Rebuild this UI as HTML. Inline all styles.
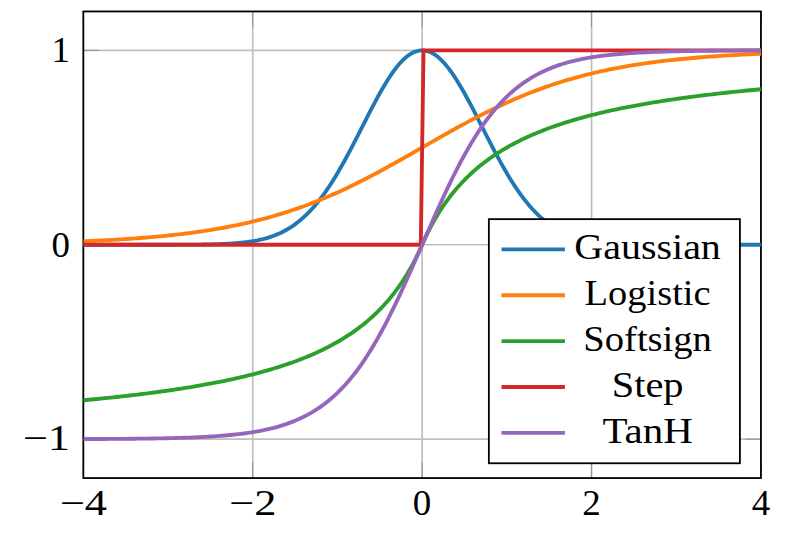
<!DOCTYPE html>
<html lang="en">
<head>
<meta charset="utf-8">
<title>Activation functions</title>
<style>
html,body{margin:0;padding:0;background:#ffffff;}
body{width:793px;height:541px;overflow:hidden;font-family:"Liberation Serif",serif;}
svg{display:block;position:absolute;left:0;top:0;}
</style>
</head>
<body>
<svg width="793" height="541" viewBox="0 0 793 541">
<defs>
<clipPath id="plotclip"><rect x="83.33" y="11.45" width="677.62" height="466.60"/></clipPath>
</defs>
<rect x="0" y="0" width="793" height="541" fill="#ffffff"/>
<g stroke="#bfbfbf" stroke-width="1.70" fill="none">
<line x1="252.74" y1="11.45" x2="252.74" y2="478.05"/>
<line x1="422.14" y1="11.45" x2="422.14" y2="478.05"/>
<line x1="591.55" y1="11.45" x2="591.55" y2="478.05"/>
<line x1="83.33" y1="439.17" x2="760.95" y2="439.17"/>
<line x1="83.33" y1="244.75" x2="760.95" y2="244.75"/>
<line x1="83.33" y1="50.33" x2="760.95" y2="50.33"/>
</g>
<g stroke="#808080" stroke-width="0.74" fill="none">
<line x1="83.33" y1="478.05" x2="83.33" y2="462.26"/>
<line x1="83.33" y1="11.45" x2="83.33" y2="27.24"/>
<line x1="252.74" y1="478.05" x2="252.74" y2="462.26"/>
<line x1="252.74" y1="11.45" x2="252.74" y2="27.24"/>
<line x1="422.14" y1="478.05" x2="422.14" y2="462.26"/>
<line x1="422.14" y1="11.45" x2="422.14" y2="27.24"/>
<line x1="591.55" y1="478.05" x2="591.55" y2="462.26"/>
<line x1="591.55" y1="11.45" x2="591.55" y2="27.24"/>
<line x1="760.95" y1="478.05" x2="760.95" y2="462.26"/>
<line x1="760.95" y1="11.45" x2="760.95" y2="27.24"/>
<line x1="83.33" y1="439.17" x2="99.12" y2="439.17"/>
<line x1="760.95" y1="439.17" x2="745.16" y2="439.17"/>
<line x1="83.33" y1="244.75" x2="99.12" y2="244.75"/>
<line x1="760.95" y1="244.75" x2="745.16" y2="244.75"/>
<line x1="83.33" y1="50.33" x2="99.12" y2="50.33"/>
<line x1="760.95" y1="50.33" x2="745.16" y2="50.33"/>
</g>
<rect x="83.33" y="11.45" width="677.62" height="466.60" fill="none" stroke="#000" stroke-width="1.80"/>
<g clip-path="url(#plotclip)" fill="none" stroke-width="3.85" stroke-linejoin="miter" stroke-linecap="butt">
<path stroke="#1f77b4" d="M83.33 244.75 L86.05 244.75 L88.77 244.75 L91.49 244.75 L94.22 244.75 L96.94 244.75 L99.66 244.75 L102.38 244.75 L105.10 244.75 L107.82 244.75 L110.54 244.75 L113.27 244.75 L115.99 244.75 L118.71 244.75 L121.43 244.75 L124.15 244.75 L126.87 244.75 L129.59 244.75 L132.31 244.75 L135.04 244.75 L137.76 244.75 L140.48 244.75 L143.20 244.75 L145.92 244.75 L148.64 244.74 L151.36 244.74 L154.09 244.74 L156.81 244.74 L159.53 244.74 L162.25 244.73 L164.97 244.73 L167.69 244.73 L170.41 244.72 L173.14 244.72 L175.86 244.71 L178.58 244.70 L181.30 244.69 L184.02 244.68 L186.74 244.66 L189.46 244.65 L192.18 244.63 L194.91 244.60 L197.63 244.58 L200.35 244.55 L203.07 244.51 L205.79 244.46 L208.51 244.41 L211.23 244.36 L213.96 244.29 L216.68 244.21 L219.40 244.12 L222.12 244.01 L224.84 243.89 L227.56 243.76 L230.28 243.60 L233.01 243.42 L235.73 243.22 L238.45 242.99 L241.17 242.73 L243.89 242.43 L246.61 242.10 L249.33 241.72 L252.05 241.30 L254.78 240.83 L257.50 240.31 L260.22 239.72 L262.94 239.07 L265.66 238.34 L268.38 237.54 L271.10 236.66 L273.83 235.69 L276.55 234.62 L279.27 233.45 L281.99 232.17 L284.71 230.77 L287.43 229.25 L290.15 227.60 L292.88 225.82 L295.60 223.89 L298.32 221.81 L301.04 219.57 L303.76 217.18 L306.48 214.62 L309.20 211.89 L311.92 208.99 L314.65 205.91 L317.37 202.65 L320.09 199.22 L322.81 195.60 L325.53 191.81 L328.25 187.85 L330.97 183.71 L333.70 179.40 L336.42 174.94 L339.14 170.33 L341.86 165.57 L344.58 160.69 L347.30 155.68 L350.02 150.58 L352.75 145.39 L355.47 140.12 L358.19 134.81 L360.91 129.46 L363.63 124.11 L366.35 118.76 L369.07 113.45 L371.79 108.20 L374.52 103.03 L377.24 97.96 L379.96 93.03 L382.68 88.26 L385.40 83.67 L388.12 79.29 L390.84 75.14 L393.57 71.25 L396.29 67.63 L399.01 64.31 L401.73 61.30 L404.45 58.63 L407.17 56.31 L409.89 54.36 L412.62 52.78 L415.34 51.58 L418.06 50.78 L420.78 50.38 L423.50 50.38 L426.22 50.78 L428.94 51.58 L431.66 52.78 L434.39 54.36 L437.11 56.31 L439.83 58.63 L442.55 61.30 L445.27 64.31 L447.99 67.63 L450.71 71.25 L453.44 75.14 L456.16 79.29 L458.88 83.67 L461.60 88.26 L464.32 93.03 L467.04 97.96 L469.76 103.03 L472.49 108.20 L475.21 113.45 L477.93 118.76 L480.65 124.11 L483.37 129.46 L486.09 134.81 L488.81 140.12 L491.53 145.39 L494.26 150.58 L496.98 155.68 L499.70 160.69 L502.42 165.57 L505.14 170.33 L507.86 174.94 L510.58 179.40 L513.31 183.71 L516.03 187.85 L518.75 191.81 L521.47 195.60 L524.19 199.22 L526.91 202.65 L529.63 205.91 L532.36 208.99 L535.08 211.89 L537.80 214.62 L540.52 217.18 L543.24 219.57 L545.96 221.81 L548.68 223.89 L551.40 225.82 L554.13 227.60 L556.85 229.25 L559.57 230.77 L562.29 232.17 L565.01 233.45 L567.73 234.62 L570.45 235.69 L573.18 236.66 L575.90 237.54 L578.62 238.34 L581.34 239.07 L584.06 239.72 L586.78 240.31 L589.50 240.83 L592.23 241.30 L594.95 241.72 L597.67 242.10 L600.39 242.43 L603.11 242.73 L605.83 242.99 L608.55 243.22 L611.27 243.42 L614.00 243.60 L616.72 243.76 L619.44 243.89 L622.16 244.01 L624.88 244.12 L627.60 244.21 L630.32 244.29 L633.05 244.36 L635.77 244.41 L638.49 244.46 L641.21 244.51 L643.93 244.55 L646.65 244.58 L649.37 244.60 L652.10 244.63 L654.82 244.65 L657.54 244.66 L660.26 244.68 L662.98 244.69 L665.70 244.70 L668.42 244.71 L671.14 244.72 L673.87 244.72 L676.59 244.73 L679.31 244.73 L682.03 244.73 L684.75 244.74 L687.47 244.74 L690.19 244.74 L692.92 244.74 L695.64 244.74 L698.36 244.75 L701.08 244.75 L703.80 244.75 L706.52 244.75 L709.24 244.75 L711.97 244.75 L714.69 244.75 L717.41 244.75 L720.13 244.75 L722.85 244.75 L725.57 244.75 L728.29 244.75 L731.01 244.75 L733.74 244.75 L736.46 244.75 L739.18 244.75 L741.90 244.75 L744.62 244.75 L747.34 244.75 L750.06 244.75 L752.79 244.75 L755.51 244.75 L758.23 244.75 L760.95 244.75"/>
<path stroke="#ff7f0e" d="M83.33 241.25 L86.05 241.14 L88.77 241.03 L91.49 240.91 L94.22 240.78 L96.94 240.66 L99.66 240.53 L102.38 240.39 L105.10 240.25 L107.82 240.11 L110.54 239.96 L113.27 239.81 L115.99 239.65 L118.71 239.49 L121.43 239.32 L124.15 239.15 L126.87 238.97 L129.59 238.79 L132.31 238.60 L135.04 238.41 L137.76 238.21 L140.48 238.00 L143.20 237.79 L145.92 237.57 L148.64 237.34 L151.36 237.11 L154.09 236.87 L156.81 236.63 L159.53 236.37 L162.25 236.11 L164.97 235.84 L167.69 235.56 L170.41 235.28 L173.14 234.99 L175.86 234.68 L178.58 234.37 L181.30 234.05 L184.02 233.72 L186.74 233.38 L189.46 233.04 L192.18 232.68 L194.91 232.31 L197.63 231.93 L200.35 231.54 L203.07 231.14 L205.79 230.72 L208.51 230.30 L211.23 229.86 L213.96 229.42 L216.68 228.96 L219.40 228.48 L222.12 228.00 L224.84 227.50 L227.56 226.99 L230.28 226.46 L233.01 225.92 L235.73 225.37 L238.45 224.80 L241.17 224.22 L243.89 223.62 L246.61 223.01 L249.33 222.38 L252.05 221.74 L254.78 221.08 L257.50 220.40 L260.22 219.71 L262.94 219.00 L265.66 218.27 L268.38 217.53 L271.10 216.77 L273.83 215.99 L276.55 215.20 L279.27 214.38 L281.99 213.55 L284.71 212.70 L287.43 211.83 L290.15 210.94 L292.88 210.03 L295.60 209.11 L298.32 208.16 L301.04 207.20 L303.76 206.22 L306.48 205.21 L309.20 204.19 L311.92 203.15 L314.65 202.09 L317.37 201.01 L320.09 199.91 L322.81 198.80 L325.53 197.66 L328.25 196.50 L330.97 195.33 L333.70 194.13 L336.42 192.92 L339.14 191.69 L341.86 190.44 L344.58 189.18 L347.30 187.89 L350.02 186.59 L352.75 185.27 L355.47 183.94 L358.19 182.59 L360.91 181.22 L363.63 179.84 L366.35 178.44 L369.07 177.03 L371.79 175.61 L374.52 174.17 L377.24 172.72 L379.96 171.26 L382.68 169.78 L385.40 168.30 L388.12 166.80 L390.84 165.30 L393.57 163.78 L396.29 162.26 L399.01 160.73 L401.73 159.20 L404.45 157.66 L407.17 156.11 L409.89 154.56 L412.62 153.00 L415.34 151.44 L418.06 149.88 L420.78 148.32 L423.50 146.76 L426.22 145.20 L428.94 143.64 L431.66 142.08 L434.39 140.53 L437.11 138.98 L439.83 137.43 L442.55 135.89 L445.27 134.35 L447.99 132.82 L450.71 131.30 L453.44 129.79 L456.16 128.28 L458.88 126.78 L461.60 125.30 L464.32 123.83 L467.04 122.36 L469.76 120.91 L472.49 119.47 L475.21 118.05 L477.93 116.64 L480.65 115.24 L483.37 113.86 L486.09 112.49 L488.81 111.14 L491.53 109.81 L494.26 108.49 L496.98 107.19 L499.70 105.91 L502.42 104.64 L505.14 103.39 L507.86 102.16 L510.58 100.95 L513.31 99.76 L516.03 98.58 L518.75 97.42 L521.47 96.29 L524.19 95.17 L526.91 94.07 L529.63 92.99 L532.36 91.93 L535.08 90.89 L537.80 89.87 L540.52 88.87 L543.24 87.88 L545.96 86.92 L548.68 85.97 L551.40 85.05 L554.13 84.14 L556.85 83.25 L559.57 82.39 L562.29 81.53 L565.01 80.70 L567.73 79.89 L570.45 79.09 L573.18 78.31 L575.90 77.55 L578.62 76.81 L581.34 76.08 L584.06 75.37 L586.78 74.68 L589.50 74.00 L592.23 73.34 L594.95 72.70 L597.67 72.07 L600.39 71.46 L603.11 70.86 L605.83 70.28 L608.55 69.71 L611.27 69.16 L614.00 68.62 L616.72 68.09 L619.44 67.58 L622.16 67.08 L624.88 66.60 L627.60 66.13 L630.32 65.67 L633.05 65.22 L635.77 64.78 L638.49 64.36 L641.21 63.95 L643.93 63.55 L646.65 63.16 L649.37 62.78 L652.10 62.41 L654.82 62.05 L657.54 61.70 L660.26 61.36 L662.98 61.03 L665.70 60.71 L668.42 60.40 L671.14 60.10 L673.87 59.80 L676.59 59.52 L679.31 59.24 L682.03 58.97 L684.75 58.71 L687.47 58.46 L690.19 58.21 L692.92 57.97 L695.64 57.74 L698.36 57.51 L701.08 57.29 L703.80 57.08 L706.52 56.88 L709.24 56.68 L711.97 56.48 L714.69 56.29 L717.41 56.11 L720.13 55.93 L722.85 55.76 L725.57 55.59 L728.29 55.43 L731.01 55.27 L733.74 55.12 L736.46 54.97 L739.18 54.83 L741.90 54.69 L744.62 54.56 L747.34 54.43 L750.06 54.30 L752.79 54.18 L755.51 54.06 L758.23 53.94 L760.95 53.83"/>
<path stroke="#2ca02c" d="M83.33 400.28 L86.05 400.03 L88.77 399.78 L91.49 399.52 L94.22 399.26 L96.94 398.99 L99.66 398.72 L102.38 398.45 L105.10 398.18 L107.82 397.90 L110.54 397.61 L113.27 397.33 L115.99 397.03 L118.71 396.74 L121.43 396.44 L124.15 396.14 L126.87 395.83 L129.59 395.51 L132.31 395.20 L135.04 394.88 L137.76 394.55 L140.48 394.22 L143.20 393.88 L145.92 393.54 L148.64 393.19 L151.36 392.84 L154.09 392.48 L156.81 392.12 L159.53 391.75 L162.25 391.38 L164.97 391.00 L167.69 390.61 L170.41 390.22 L173.14 389.82 L175.86 389.41 L178.58 389.00 L181.30 388.58 L184.02 388.16 L186.74 387.72 L189.46 387.28 L192.18 386.83 L194.91 386.38 L197.63 385.91 L200.35 385.44 L203.07 384.96 L205.79 384.47 L208.51 383.97 L211.23 383.46 L213.96 382.94 L216.68 382.41 L219.40 381.88 L222.12 381.33 L224.84 380.77 L227.56 380.20 L230.28 379.62 L233.01 379.03 L235.73 378.43 L238.45 377.81 L241.17 377.18 L243.89 376.54 L246.61 375.89 L249.33 375.22 L252.05 374.53 L254.78 373.84 L257.50 373.12 L260.22 372.39 L262.94 371.65 L265.66 370.89 L268.38 370.11 L271.10 369.31 L273.83 368.50 L276.55 367.66 L279.27 366.81 L281.99 365.93 L284.71 365.03 L287.43 364.11 L290.15 363.17 L292.88 362.20 L295.60 361.21 L298.32 360.19 L301.04 359.15 L303.76 358.08 L306.48 356.98 L309.20 355.85 L311.92 354.68 L314.65 353.49 L317.37 352.26 L320.09 350.99 L322.81 349.68 L325.53 348.34 L328.25 346.96 L330.97 345.53 L333.70 344.06 L336.42 342.54 L339.14 340.97 L341.86 339.35 L344.58 337.68 L347.30 335.95 L350.02 334.16 L352.75 332.30 L355.47 330.38 L358.19 328.39 L360.91 326.32 L363.63 324.18 L366.35 321.95 L369.07 319.64 L371.79 317.23 L374.52 314.72 L377.24 312.11 L379.96 309.38 L382.68 306.54 L385.40 303.57 L388.12 300.46 L390.84 297.20 L393.57 293.79 L396.29 290.21 L399.01 286.45 L401.73 282.50 L404.45 278.34 L407.17 273.95 L409.89 269.31 L412.62 264.40 L415.34 259.20 L418.06 253.69 L420.78 247.82 L423.50 241.68 L426.22 235.81 L428.94 230.30 L431.66 225.10 L434.39 220.19 L437.11 215.55 L439.83 211.16 L442.55 207.00 L445.27 203.05 L447.99 199.29 L450.71 195.71 L453.44 192.30 L456.16 189.04 L458.88 185.93 L461.60 182.96 L464.32 180.12 L467.04 177.39 L469.76 174.78 L472.49 172.27 L475.21 169.86 L477.93 167.55 L480.65 165.32 L483.37 163.18 L486.09 161.11 L488.81 159.12 L491.53 157.20 L494.26 155.34 L496.98 153.55 L499.70 151.82 L502.42 150.15 L505.14 148.53 L507.86 146.96 L510.58 145.44 L513.31 143.97 L516.03 142.54 L518.75 141.16 L521.47 139.82 L524.19 138.51 L526.91 137.24 L529.63 136.01 L532.36 134.82 L535.08 133.65 L537.80 132.52 L540.52 131.42 L543.24 130.35 L545.96 129.31 L548.68 128.29 L551.40 127.30 L554.13 126.33 L556.85 125.39 L559.57 124.47 L562.29 123.57 L565.01 122.69 L567.73 121.84 L570.45 121.00 L573.18 120.19 L575.90 119.39 L578.62 118.61 L581.34 117.85 L584.06 117.11 L586.78 116.38 L589.50 115.66 L592.23 114.97 L594.95 114.28 L597.67 113.61 L600.39 112.96 L603.11 112.32 L605.83 111.69 L608.55 111.07 L611.27 110.47 L614.00 109.88 L616.72 109.30 L619.44 108.73 L622.16 108.17 L624.88 107.62 L627.60 107.09 L630.32 106.56 L633.05 106.04 L635.77 105.53 L638.49 105.03 L641.21 104.54 L643.93 104.06 L646.65 103.59 L649.37 103.12 L652.10 102.67 L654.82 102.22 L657.54 101.78 L660.26 101.34 L662.98 100.92 L665.70 100.50 L668.42 100.09 L671.14 99.68 L673.87 99.28 L676.59 98.89 L679.31 98.50 L682.03 98.12 L684.75 97.75 L687.47 97.38 L690.19 97.02 L692.92 96.66 L695.64 96.31 L698.36 95.96 L701.08 95.62 L703.80 95.28 L706.52 94.95 L709.24 94.62 L711.97 94.30 L714.69 93.99 L717.41 93.67 L720.13 93.36 L722.85 93.06 L725.57 92.76 L728.29 92.47 L731.01 92.17 L733.74 91.89 L736.46 91.60 L739.18 91.32 L741.90 91.05 L744.62 90.78 L747.34 90.51 L750.06 90.24 L752.79 89.98 L755.51 89.72 L758.23 89.47 L760.95 89.22"/>
<path stroke="#d62728" d="M83.33 244.75 L86.05 244.75 L88.77 244.75 L91.49 244.75 L94.22 244.75 L96.94 244.75 L99.66 244.75 L102.38 244.75 L105.10 244.75 L107.82 244.75 L110.54 244.75 L113.27 244.75 L115.99 244.75 L118.71 244.75 L121.43 244.75 L124.15 244.75 L126.87 244.75 L129.59 244.75 L132.31 244.75 L135.04 244.75 L137.76 244.75 L140.48 244.75 L143.20 244.75 L145.92 244.75 L148.64 244.75 L151.36 244.75 L154.09 244.75 L156.81 244.75 L159.53 244.75 L162.25 244.75 L164.97 244.75 L167.69 244.75 L170.41 244.75 L173.14 244.75 L175.86 244.75 L178.58 244.75 L181.30 244.75 L184.02 244.75 L186.74 244.75 L189.46 244.75 L192.18 244.75 L194.91 244.75 L197.63 244.75 L200.35 244.75 L203.07 244.75 L205.79 244.75 L208.51 244.75 L211.23 244.75 L213.96 244.75 L216.68 244.75 L219.40 244.75 L222.12 244.75 L224.84 244.75 L227.56 244.75 L230.28 244.75 L233.01 244.75 L235.73 244.75 L238.45 244.75 L241.17 244.75 L243.89 244.75 L246.61 244.75 L249.33 244.75 L252.05 244.75 L254.78 244.75 L257.50 244.75 L260.22 244.75 L262.94 244.75 L265.66 244.75 L268.38 244.75 L271.10 244.75 L273.83 244.75 L276.55 244.75 L279.27 244.75 L281.99 244.75 L284.71 244.75 L287.43 244.75 L290.15 244.75 L292.88 244.75 L295.60 244.75 L298.32 244.75 L301.04 244.75 L303.76 244.75 L306.48 244.75 L309.20 244.75 L311.92 244.75 L314.65 244.75 L317.37 244.75 L320.09 244.75 L322.81 244.75 L325.53 244.75 L328.25 244.75 L330.97 244.75 L333.70 244.75 L336.42 244.75 L339.14 244.75 L341.86 244.75 L344.58 244.75 L347.30 244.75 L350.02 244.75 L352.75 244.75 L355.47 244.75 L358.19 244.75 L360.91 244.75 L363.63 244.75 L366.35 244.75 L369.07 244.75 L371.79 244.75 L374.52 244.75 L377.24 244.75 L379.96 244.75 L382.68 244.75 L385.40 244.75 L388.12 244.75 L390.84 244.75 L393.57 244.75 L396.29 244.75 L399.01 244.75 L401.73 244.75 L404.45 244.75 L407.17 244.75 L409.89 244.75 L412.62 244.75 L415.34 244.75 L418.06 244.75 L420.78 244.75 L423.50 50.33 L426.22 50.33 L428.94 50.33 L431.66 50.33 L434.39 50.33 L437.11 50.33 L439.83 50.33 L442.55 50.33 L445.27 50.33 L447.99 50.33 L450.71 50.33 L453.44 50.33 L456.16 50.33 L458.88 50.33 L461.60 50.33 L464.32 50.33 L467.04 50.33 L469.76 50.33 L472.49 50.33 L475.21 50.33 L477.93 50.33 L480.65 50.33 L483.37 50.33 L486.09 50.33 L488.81 50.33 L491.53 50.33 L494.26 50.33 L496.98 50.33 L499.70 50.33 L502.42 50.33 L505.14 50.33 L507.86 50.33 L510.58 50.33 L513.31 50.33 L516.03 50.33 L518.75 50.33 L521.47 50.33 L524.19 50.33 L526.91 50.33 L529.63 50.33 L532.36 50.33 L535.08 50.33 L537.80 50.33 L540.52 50.33 L543.24 50.33 L545.96 50.33 L548.68 50.33 L551.40 50.33 L554.13 50.33 L556.85 50.33 L559.57 50.33 L562.29 50.33 L565.01 50.33 L567.73 50.33 L570.45 50.33 L573.18 50.33 L575.90 50.33 L578.62 50.33 L581.34 50.33 L584.06 50.33 L586.78 50.33 L589.50 50.33 L592.23 50.33 L594.95 50.33 L597.67 50.33 L600.39 50.33 L603.11 50.33 L605.83 50.33 L608.55 50.33 L611.27 50.33 L614.00 50.33 L616.72 50.33 L619.44 50.33 L622.16 50.33 L624.88 50.33 L627.60 50.33 L630.32 50.33 L633.05 50.33 L635.77 50.33 L638.49 50.33 L641.21 50.33 L643.93 50.33 L646.65 50.33 L649.37 50.33 L652.10 50.33 L654.82 50.33 L657.54 50.33 L660.26 50.33 L662.98 50.33 L665.70 50.33 L668.42 50.33 L671.14 50.33 L673.87 50.33 L676.59 50.33 L679.31 50.33 L682.03 50.33 L684.75 50.33 L687.47 50.33 L690.19 50.33 L692.92 50.33 L695.64 50.33 L698.36 50.33 L701.08 50.33 L703.80 50.33 L706.52 50.33 L709.24 50.33 L711.97 50.33 L714.69 50.33 L717.41 50.33 L720.13 50.33 L722.85 50.33 L725.57 50.33 L728.29 50.33 L731.01 50.33 L733.74 50.33 L736.46 50.33 L739.18 50.33 L741.90 50.33 L744.62 50.33 L747.34 50.33 L750.06 50.33 L752.79 50.33 L755.51 50.33 L758.23 50.33 L760.95 50.33"/>
<path stroke="#9467bd" d="M83.33 439.04 L86.05 439.03 L88.77 439.02 L91.49 439.01 L94.22 439.00 L96.94 438.99 L99.66 438.97 L102.38 438.96 L105.10 438.95 L107.82 438.93 L110.54 438.92 L113.27 438.90 L115.99 438.88 L118.71 438.87 L121.43 438.85 L124.15 438.82 L126.87 438.80 L129.59 438.78 L132.31 438.75 L135.04 438.72 L137.76 438.70 L140.48 438.66 L143.20 438.63 L145.92 438.60 L148.64 438.56 L151.36 438.52 L154.09 438.47 L156.81 438.43 L159.53 438.38 L162.25 438.33 L164.97 438.27 L167.69 438.21 L170.41 438.15 L173.14 438.08 L175.86 438.01 L178.58 437.93 L181.30 437.85 L184.02 437.77 L186.74 437.67 L189.46 437.57 L192.18 437.47 L194.91 437.36 L197.63 437.24 L200.35 437.11 L203.07 436.97 L205.79 436.83 L208.51 436.68 L211.23 436.51 L213.96 436.34 L216.68 436.15 L219.40 435.95 L222.12 435.74 L224.84 435.52 L227.56 435.28 L230.28 435.02 L233.01 434.75 L235.73 434.46 L238.45 434.15 L241.17 433.82 L243.89 433.47 L246.61 433.10 L249.33 432.70 L252.05 432.28 L254.78 431.83 L257.50 431.36 L260.22 430.85 L262.94 430.31 L265.66 429.74 L268.38 429.13 L271.10 428.48 L273.83 427.79 L276.55 427.06 L279.27 426.28 L281.99 425.46 L284.71 424.58 L287.43 423.65 L290.15 422.67 L292.88 421.62 L295.60 420.51 L298.32 419.34 L301.04 418.09 L303.76 416.78 L306.48 415.38 L309.20 413.90 L311.92 412.34 L314.65 410.69 L317.37 408.95 L320.09 407.11 L322.81 405.17 L325.53 403.12 L328.25 400.97 L330.97 398.69 L333.70 396.30 L336.42 393.79 L339.14 391.15 L341.86 388.38 L344.58 385.48 L347.30 382.43 L350.02 379.25 L352.75 375.92 L355.47 372.44 L358.19 368.81 L360.91 365.04 L363.63 361.10 L366.35 357.02 L369.07 352.78 L371.79 348.38 L374.52 343.83 L377.24 339.13 L379.96 334.29 L382.68 329.29 L385.40 324.16 L388.12 318.89 L390.84 313.48 L393.57 307.96 L396.29 302.31 L399.01 296.56 L401.73 290.71 L404.45 284.77 L407.17 278.75 L409.89 272.66 L412.62 266.52 L415.34 260.33 L418.06 254.11 L420.78 247.87 L423.50 241.63 L426.22 235.39 L428.94 229.17 L431.66 222.98 L434.39 216.84 L437.11 210.75 L439.83 204.73 L442.55 198.79 L445.27 192.94 L447.99 187.19 L450.71 181.54 L453.44 176.02 L456.16 170.61 L458.88 165.34 L461.60 160.21 L464.32 155.21 L467.04 150.37 L469.76 145.67 L472.49 141.12 L475.21 136.72 L477.93 132.48 L480.65 128.40 L483.37 124.46 L486.09 120.69 L488.81 117.06 L491.53 113.58 L494.26 110.25 L496.98 107.07 L499.70 104.02 L502.42 101.12 L505.14 98.35 L507.86 95.71 L510.58 93.20 L513.31 90.81 L516.03 88.53 L518.75 86.38 L521.47 84.33 L524.19 82.39 L526.91 80.55 L529.63 78.81 L532.36 77.16 L535.08 75.60 L537.80 74.12 L540.52 72.72 L543.24 71.41 L545.96 70.16 L548.68 68.99 L551.40 67.88 L554.13 66.83 L556.85 65.85 L559.57 64.92 L562.29 64.04 L565.01 63.22 L567.73 62.44 L570.45 61.71 L573.18 61.02 L575.90 60.37 L578.62 59.76 L581.34 59.19 L584.06 58.65 L586.78 58.14 L589.50 57.67 L592.23 57.22 L594.95 56.80 L597.67 56.40 L600.39 56.03 L603.11 55.68 L605.83 55.35 L608.55 55.04 L611.27 54.75 L614.00 54.48 L616.72 54.22 L619.44 53.98 L622.16 53.76 L624.88 53.55 L627.60 53.35 L630.32 53.16 L633.05 52.99 L635.77 52.82 L638.49 52.67 L641.21 52.53 L643.93 52.39 L646.65 52.26 L649.37 52.14 L652.10 52.03 L654.82 51.93 L657.54 51.83 L660.26 51.73 L662.98 51.65 L665.70 51.57 L668.42 51.49 L671.14 51.42 L673.87 51.35 L676.59 51.29 L679.31 51.23 L682.03 51.17 L684.75 51.12 L687.47 51.07 L690.19 51.03 L692.92 50.98 L695.64 50.94 L698.36 50.90 L701.08 50.87 L703.80 50.84 L706.52 50.80 L709.24 50.78 L711.97 50.75 L714.69 50.72 L717.41 50.70 L720.13 50.68 L722.85 50.65 L725.57 50.63 L728.29 50.62 L731.01 50.60 L733.74 50.58 L736.46 50.57 L739.18 50.55 L741.90 50.54 L744.62 50.53 L747.34 50.51 L750.06 50.50 L752.79 50.49 L755.51 50.48 L758.23 50.47 L760.95 50.46"/>
</g>
<rect x="488.85" y="219.15" width="251.05" height="244.12" fill="#fff" stroke="#000" stroke-width="1.80"/>
<line x1="501.50" y1="249.38" x2="564.90" y2="249.38" stroke="#1f77b4" stroke-width="3.85"/>
<line x1="501.50" y1="295.25" x2="564.90" y2="295.25" stroke="#ff7f0e" stroke-width="3.85"/>
<line x1="501.50" y1="341.12" x2="564.90" y2="341.12" stroke="#2ca02c" stroke-width="3.85"/>
<line x1="501.50" y1="386.99" x2="564.90" y2="386.99" stroke="#d62728" stroke-width="3.85"/>
<line x1="501.50" y1="432.86" x2="564.90" y2="432.86" stroke="#9467bd" stroke-width="3.85"/>
<g font-family="'Liberation Serif', serif" font-size="36" fill="#000" text-anchor="middle">
<text x="647.62" y="259.20" textLength="146.48" lengthAdjust="spacingAndGlyphs">Gaussian</text>
<text x="647.62" y="305.49" textLength="125.98" lengthAdjust="spacingAndGlyphs">Logistic</text>
<text x="647.62" y="351.08" textLength="128.54" lengthAdjust="spacingAndGlyphs">Softsign</text>
<text x="647.62" y="397.02" textLength="71.85" lengthAdjust="spacingAndGlyphs">Step</text>
<text x="647.62" y="442.96" textLength="90.43" lengthAdjust="spacingAndGlyphs">TanH</text>
<text x="83.33" y="515.00" textLength="47.25" lengthAdjust="spacingAndGlyphs">−4</text>
<text x="252.74" y="515.00" textLength="47.25" lengthAdjust="spacingAndGlyphs">−2</text>
<text x="422.14" y="515.00" textLength="18.50" lengthAdjust="spacingAndGlyphs">0</text>
<text x="591.55" y="515.00" textLength="18.50" lengthAdjust="spacingAndGlyphs">2</text>
<text x="760.95" y="515.00" textLength="18.50" lengthAdjust="spacingAndGlyphs">4</text>
<text x="46.28" y="449.78" textLength="47.25" lengthAdjust="spacingAndGlyphs">−1</text>
<text x="60.65" y="256.66" textLength="18.50" lengthAdjust="spacingAndGlyphs">0</text>
<text x="60.65" y="62.25" textLength="18.50" lengthAdjust="spacingAndGlyphs">1</text>
</g>
</svg>
</body>
</html>
